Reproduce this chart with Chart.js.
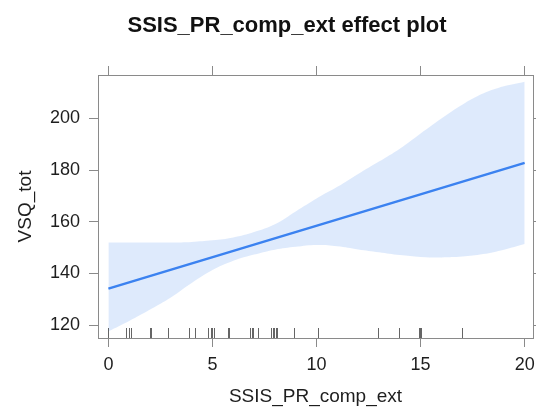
<!DOCTYPE html>
<html>
<head>
<meta charset="utf-8">
<script src="https://cdn.jsdelivr.net/npm/chart.js@4/dist/chart.umd.min.js"></script>
<style>
  body { margin: 0; background: #fff; }
</style>
</head>
<body>
<canvas id="effect" width="536" height="410"></canvas>
<script>
// effect plot data
const TITLE = 'SSIS_PR_comp_ext effect plot';
const X_LABEL = 'SSIS_PR_comp_ext';
const Y_LABEL = 'VSQ_tot';

const xTicks = [0, 5, 10, 15, 20];
const yTicks = [120, 140, 160, 180, 200];

const fitX = [0, 20];
const fitY = [134.1, 182.8];

const bandX = [0, 1, 2, 3, 4, 5, 6, 7, 8, 9, 10, 11, 12, 13, 14, 15, 16, 17, 18, 19, 20];
const bandUpper = [152, 152, 152, 152, 152.2, 152.8, 153.9, 156, 159, 164, 169, 173.5, 178.5, 183.3, 188.3, 194.2, 200, 205.3, 209.6, 212.4, 214.2];
const bandLower = [117.6, 121.6, 126, 130.7, 136.3, 141.3, 144.9, 147.3, 149.2, 150.3, 151, 150.5, 149.3, 148.2, 147.1, 146.4, 146.2, 146.5, 147.5, 149.2, 151.4];

const rugX = [0, 0.85, 1, 1.07, 2, 2.03, 2.85, 3.85, 4.15, 4.8, 4.92, 5, 5.07, 5.75, 5.8,
  6.8, 6.88, 6.96, 7.17, 7.8, 7.9, 7.97, 8.05, 8.1, 8.9, 10.08, 12.96, 13.97, 14.9, 14.95, 15, 17];

const LINE_COLOR = '#3b82f0';
const BAND_COLOR = 'rgba(59,130,240,0.17)';
const AXIS_COLOR = '#8a8a8a';
const TEXT_COLOR = '#1e1e1e';
const FONT = '"Liberation Sans", Arial, sans-serif';

const pts = (xs, ys) => xs.map((x, i) => ({ x: x, y: ys[i] }));

// title drawn as text on the canvas
const plotTitle = {
  id: 'plotTitle',
  afterDraw(chart) {
    const ctx = chart.ctx;
    ctx.save();
    ctx.font = 'bold 22px ' + FONT;
    ctx.fillStyle = '#111';
    ctx.textAlign = 'center';
    ctx.textBaseline = 'alphabetic';
    ctx.fillText(TITLE, 287, 32);
    ctx.restore();
  }
};

// rug of observed x values along the bottom
const rug = {
  id: 'rug',
  afterDatasetsDraw(chart) {
    const ctx = chart.ctx;
    const xs = chart.scales.x;
    const bottom = chart.chartArea.bottom;
    ctx.save();
    ctx.strokeStyle = 'rgba(50,50,50,0.75)';
    ctx.lineWidth = 1;
    rugX.forEach(v => {
      const px = Math.round(xs.getPixelForValue(v)) + 0.5;
      ctx.beginPath();
      ctx.moveTo(px, bottom);
      ctx.lineTo(px, bottom - 10);
      ctx.stroke();
    });
    ctx.restore();
  }
};

const xRange = { min: -0.5, max: 20.4 };
const yRange = { min: 115, max: 216.8 };

const gridOpts = { drawOnChartArea: false, tickLength: 9, color: AXIS_COLOR, lineWidth: 1 };
const borderOpts = { display: true, color: AXIS_COLOR, width: 1 };
const tickFont = { family: FONT, size: 18 };
const titleFont = { family: FONT, size: 19 };

// fixed axis sizes so the plot box sits where it does in the reference
const fixH = h => s => { s.height = h; s.paddingLeft = 0; s.paddingRight = 0; };
const fixW = w => s => { s.width = w; s.paddingTop = 0; s.paddingBottom = 0; };

new Chart(document.getElementById('effect'), {
  type: 'line',
  data: {
    datasets: [
      {
        label: 'lower',
        data: pts(bandX, bandLower),
        borderWidth: 0,
        pointRadius: 0,
        fill: false,
        tension: 0.4,
        order: 2
      },
      {
        label: 'upper',
        data: pts(bandX, bandUpper),
        borderWidth: 0,
        pointRadius: 0,
        backgroundColor: BAND_COLOR,
        fill: '-1',
        tension: 0.4,
        order: 1
      },
      {
        label: 'fit',
        data: pts(fitX, fitY),
        borderColor: LINE_COLOR,
        borderWidth: 2.5,
        pointRadius: 0,
        fill: false,
        order: 0
      }
    ]
  },
  options: {
    responsive: false,
    animation: false,
    layout: { padding: 0 },
    plugins: {
      legend: { display: false },
      title: { display: false },
      tooltip: { enabled: false }
    },
    scales: {
      x: {
        type: 'linear',
        position: 'bottom',
        min: xRange.min,
        max: xRange.max,
        afterBuildTicks: s => { s.ticks = xTicks.map(v => ({ value: v })); },
        ticks: { color: TEXT_COLOR, font: tickFont, padding: 7, maxRotation: 0 },
        grid: gridOpts,
        border: borderOpts,
        title: { display: true, text: X_LABEL, color: TEXT_COLOR, font: titleFont, padding: { top: 0, bottom: 2 } },
        afterFit: fixH(72)
      },
      x2: {
        type: 'linear',
        position: 'top',
        min: xRange.min,
        max: xRange.max,
        afterBuildTicks: s => { s.ticks = xTicks.map(v => ({ value: v })); },
        ticks: { display: false },
        grid: gridOpts,
        border: borderOpts,
        afterFit: fixH(75)
      },
      y: {
        type: 'linear',
        position: 'left',
        min: yRange.min,
        max: yRange.max,
        afterBuildTicks: s => { s.ticks = yTicks.map(v => ({ value: v })); },
        ticks: { color: TEXT_COLOR, font: tickFont, padding: 9 },
        grid: gridOpts,
        border: borderOpts,
        title: { display: true, text: Y_LABEL, color: TEXT_COLOR, font: titleFont, padding: { top: 14, bottom: 0 } },
        afterFit: fixW(98)
      },
      y2: {
        type: 'linear',
        position: 'right',
        min: yRange.min,
        max: yRange.max,
        afterBuildTicks: s => { s.ticks = yTicks.map(v => ({ value: v })); },
        ticks: { display: false },
        grid: gridOpts,
        border: borderOpts,
        afterFit: fixW(3)
      }
    }
  },
  plugins: [plotTitle, rug]
});
</script>
</body>
</html>
